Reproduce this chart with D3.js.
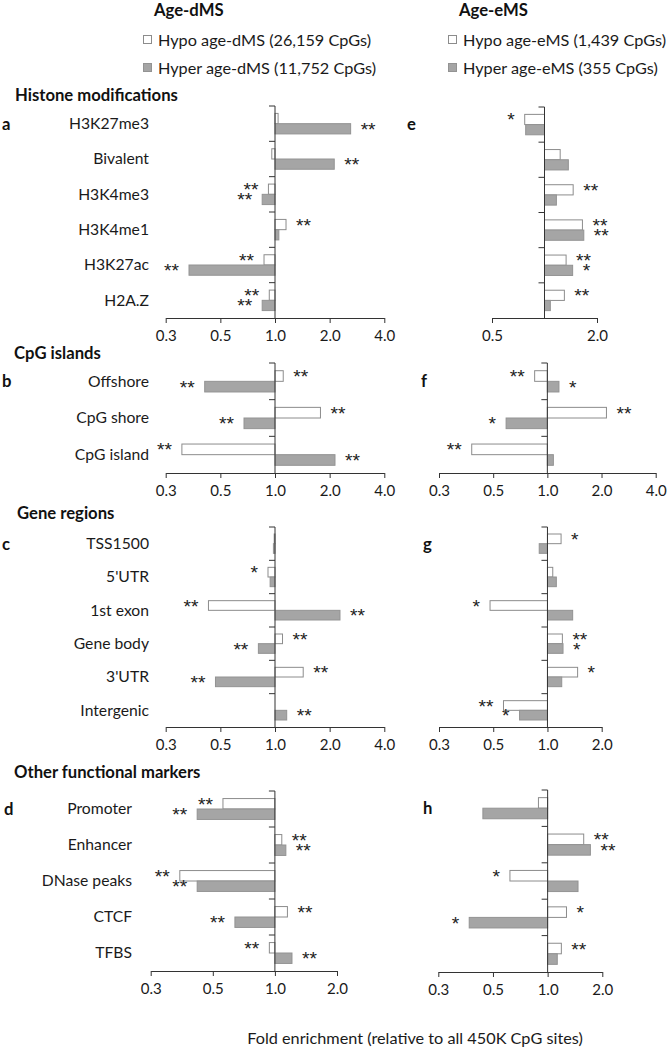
<!DOCTYPE html>
<html>
<head>
<meta charset="utf-8">
<script src="https://cdn.jsdelivr.net/npm/d3@7"></script>
<style>
  body { margin: 0; background: #fff; }
  svg { display: block; font-family: Lato, "Open Sans", sans-serif; }
  .cat { fill: #1a1a1a; }
  .tick text { fill: #1a1a1a; font-family: Lato, "Open Sans", sans-serif; }
  .head { font-weight: bold; fill: #111; }
  .letter { font-weight: bold; fill: #111; }
  .leg { fill: #1a1a1a; }
  .sig { fill: #222; font-family: "Liberation Sans", "DejaVu Sans", sans-serif; }
</style>
</head>
<body>
<div id="chart"></div>
<script>
// categorias
var histoneCats = ["H3K27me3", "Bivalent", "H3K4me3", "H3K4me1", "H3K27ac", "H2A.Z"];
var cpgCats = ["Offshore", "CpG shore", "CpG island"];
var geneCats = ["TSS1500", "5'UTR", "1st exon", "Gene body", "3'UTR", "Intergenic"];
var otherCats = ["Promoter", "Enhancer", "DNase peaks", "CTCF", "TFBS"];

// fold enrichment - age-dMS
var aHypo = [1.04, 0.96, 0.92, 1.15, 0.87, 0.93];
var aHyper = [2.61, 2.12, 0.85, 1.05, 0.336, 0.85];
var aHypoSig = ["", "", "**", "**", "**", "**"];
var aHyperSig = ["**", "**", "**", "", "**", "**"];

var bHypo = [1.11, 1.78, 0.307];
var bHyper = [0.41, 0.675, 2.14];
var bHypoSig = ["**", "**", "**"];
var bHyperSig = ["**", "**", "**"];

var cHypo = [0.99, 0.915, 0.43, 1.10, 1.43, 1.0];
var cHyper = [0.98, 0.94, 2.28, 0.81, 0.47, 1.16];
var cHypoSig = ["", "*", "**", "**", "**", ""];
var cHyperSig = ["", "", "**", "**", "**", "**"];

var dHypo = [0.56, 1.08, 0.346, 1.15, 0.94];
var dHyper = [0.42, 1.13, 0.42, 0.64, 1.21];
var dHypoSig = ["**", "**", "**", "**", "**"];
var dHyperSig = ["**", "**", "**", "**", "**"];

// fold enrichment - age-eMS
var eHypo = [0.77, 1.23, 1.46, 1.65, 1.33, 1.30];
var eHyper = [0.78, 1.37, 1.17, 1.68, 1.45, 1.08];
var eHypoSig = ["*", "", "**", "**", "**", "**"];
var eHyperSig = ["", "", "", "**", "*", ""];

var fHypo = [0.85, 2.13, 0.38];
var fHyper = [1.16, 0.59, 1.08];
var fHypoSig = ["**", "**", "**"];
var fHyperSig = ["*", "*", ""];

var gHypo = [1.19, 1.07, 0.48, 1.21, 1.47, 0.57];
var gHyper = [0.90, 1.12, 1.38, 1.22, 1.20, 0.70];
var gHypoSig = ["*", "", "*", "**", "*", "**"];
var gHyperSig = ["", "", "", "*", "", "*"];

var hHypo = [0.89, 1.58, 0.62, 1.27, 1.19];
var hHyper = [0.44, 1.72, 1.47, 0.37, 1.13];
var hHypoSig = ["", "**", "*", "*", "**"];
var hHyperSig = ["", "**", "", "*", ""];

// ejes
var ticksWide = [0.25, 0.5, 1, 2, 4];
var ticksNarrow = [0.25, 0.5, 1, 2];
var ticksE = [0.5, 2];
var tickLabels = {0.25: "0.3", 0.5: "0.5", 1: "1.0", 2: "2.0", 4: "4.0"};

var legendLeft = ["Hypo age-dMS (26,159 CpGs)", "Hyper age-dMS (11,752 CpGs)"];
var legendRight = ["Hypo age-eMS (1,439 CpGs)", "Hyper age-eMS (355 CpGs)"];

var W = 667, H = 1048;
var svg = d3.select("#chart").append("svg")
    .attr("width", W)
    .attr("height", H);

svg.append("rect").attr("width", W).attr("height", H).attr("fill", "#fff");

// ajustar tamaño de letra al ancho de la referencia
function fitSize(cls, sample, target) {
    var t = svg.append("text").attr("class", cls).style("font-size", "100px").text(sample);
    var w = t.node().getComputedTextLength();
    t.remove();
    return (target / w * 100).toFixed(2) + "px";
}
var fsCat = fitSize("cat", "H3K27me3", 80);
var fsLeg = fitSize("leg", "Hypo age-eMS (1,439 CpGs)", 203);
var fsHead = fitSize("head", "Histone modifications", 163);
var fsTick = fitSize("cat", "0.3", 21);
var fsSig = fitSize("sig", "**", 15);

function txt(cls, x, y, s, fs) {
    return svg.append("text").attr("class", cls)
        .attr("x", x).attr("y", y).attr("dy", "0.35em")
        .style("font-size", fs).text(s);
}

// titulos y leyendas
txt("head", 154, 10, "Age-dMS", fsHead);
txt("head", 459, 10, "Age-eMS", fsHead);

function legend(x, items) {
    items.forEach(function(t, i) {
        var cy = 40 + i * 28;
        svg.append("rect")
            .attr("x", x + 0.5).attr("y", cy - 4.5)
            .attr("width", 8).attr("height", 8)
            .attr("fill", i === 0 ? "#fff" : "#a5a5a5")
            .attr("stroke", i === 0 ? "#8c8c8c" : "#939393");
        txt("leg", x + 15, cy, t, fsLeg);
    });
}
legend(143, legendLeft);
legend(448, legendRight);

var sections = [
    {t: "Histone modifications", x: 15, y: 95},
    {t: "CpG islands", x: 14, y: 353},
    {t: "Gene regions", x: 17, y: 513},
    {t: "Other functional markers", x: 14, y: 772}
];
sections.forEach(function(s) { txt("head", s.x, s.y, s.t, fsHead); });

var panels = [
    {id: "a", cats: histoneCats, hypo: aHypo, hyper: aHyper, hs: aHypoSig, ys: aHyperSig, ticks: ticksWide,
     x0: 165.7, x1: 384.3, y0: 106, y1: 318, lx: 2, labelX: 149},
    {id: "b", cats: cpgCats, hypo: bHypo, hyper: bHyper, hs: bHypoSig, ys: bHyperSig, ticks: ticksWide,
     x0: 165.7, x1: 384.3, y0: 363, y1: 473, lx: 2, labelX: 149},
    {id: "c", cats: geneCats, hypo: cHypo, hyper: cHyper, hs: cHypoSig, ys: cHyperSig, ticks: ticksWide,
     x0: 165.7, x1: 384.3, y0: 527, y1: 727, lx: 2, labelX: 149},
    {id: "d", cats: otherCats, hypo: dHypo, hyper: dHyper, hs: dHypoSig, ys: dHyperSig, ticks: ticksNarrow,
     x0: 150.7, x1: 337, y0: 791, y1: 971, lx: 4, labelX: 132},
    {id: "e", cats: histoneCats, hypo: eHypo, hyper: eHyper, hs: eHypoSig, ys: eHyperSig, ticks: ticksE,
     x0: 492, x1: 597, y0: 107, y1: 318, lx: 407},
    {id: "f", cats: cpgCats, hypo: fHypo, hyper: fHyper, hs: fHypoSig, ys: fHyperSig, ticks: ticksWide,
     x0: 439, x1: 655.7, y0: 363, y1: 473, lx: 421},
    {id: "g", cats: geneCats, hypo: gHypo, hyper: gHyper, hs: gHypoSig, ys: gHyperSig, ticks: ticksNarrow,
     x0: 439, x1: 601.7, y0: 527, y1: 727, lx: 423},
    {id: "h", cats: otherCats, hypo: hHypo, hyper: hHyper, hs: hHypoSig, ys: hHyperSig, ticks: ticksNarrow,
     x0: 438.3, x1: 602.3, y0: 790, y1: 972, lx: 423}
];

function drawPanel(p) {
    var g = svg.append("g");
    var x = d3.scaleLog().base(2)
        .domain([p.ticks[0], p.ticks[p.ticks.length - 1]])
        .range([p.x0, p.x1]);
    var y = d3.scaleBand().domain(p.cats).range([p.y0, p.y1]);
    var bw = y.bandwidth();
    var bh = bw * 0.29;
    var base = x(1);

    var rows = p.cats.map(function(c, i) {
        return [
            {cat: c, v: p.hypo[i], sig: p.hs[i], k: 0},
            {cat: c, v: p.hyper[i], sig: p.ys[i], k: 1}
        ];
    }).flat();

    g.selectAll(".bar").data(rows).enter().append("rect")
        .attr("x", d => Math.min(base, x(d.v)))
        .attr("y", d => y(d.cat) + bw / 2 - bh + d.k * bh)
        .attr("width", d => Math.abs(x(d.v) - base))
        .attr("height", bh)
        .attr("fill", d => d.k === 0 ? "#fff" : "#a5a5a5")
        .attr("stroke", d => d.k === 0 ? "#8c8c8c" : "#939393")
        .attr("stroke-width", 1);

    g.selectAll(".sig").data(rows.filter(d => d.sig)).enter().append("text")
        .attr("class", "sig")
        .style("font-size", fsSig)
        .attr("x", d => d.v >= 1 ? x(d.v) + 10 : x(d.v) - 10)
        .attr("y", d => y(d.cat) + bw / 2 - bh / 2 + d.k * bh + 7)
        .attr("text-anchor", d => d.v >= 1 ? "start" : "end")
        .text(d => d.sig);

    // eje vertical en 1.0
    g.append("line")
        .attr("x1", base).attr("x2", base)
        .attr("y1", p.y0).attr("y2", p.y1)
        .attr("stroke", "#333");
    g.selectAll(".ytick").data(p.cats).enter().append("line")
        .attr("x1", base - 6).attr("x2", base)
        .attr("y1", d => y(d)).attr("y2", d => y(d))
        .attr("stroke", "#333");

    var ax = g.append("g")
        .attr("transform", "translate(0," + p.y1 + ")")
        .call(d3.axisBottom(x)
            .tickValues(p.ticks)
            .tickFormat(d => tickLabels[d])
            .tickSize(5)
            .tickSizeOuter(0)
            .tickPadding(7));
    ax.select(".domain").attr("stroke", "#333");
    ax.selectAll(".tick line").attr("stroke", "#333");
    ax.selectAll(".tick text").style("font-size", fsTick);

    if (p.labelX) {
        g.selectAll(".cat").data(p.cats).enter().append("text")
            .attr("class", "cat")
            .style("font-size", fsCat)
            .attr("x", p.labelX)
            .attr("y", d => y(d) + bw / 2)
            .attr("dy", "0.35em")
            .attr("text-anchor", "end")
            .text(d => d);
    }

    g.append("text").attr("class", "letter")
        .style("font-size", fsHead)
        .attr("x", p.lx).attr("y", y(p.cats[0]) + bw / 2)
        .attr("dy", "0.35em")
        .text(p.id);
}

panels.forEach(drawPanel);

txt("leg", 415, 1038, "Fold enrichment (relative to all 450K CpG sites)", fsLeg)
    .attr("text-anchor", "middle");
</script>
</body>
</html>
